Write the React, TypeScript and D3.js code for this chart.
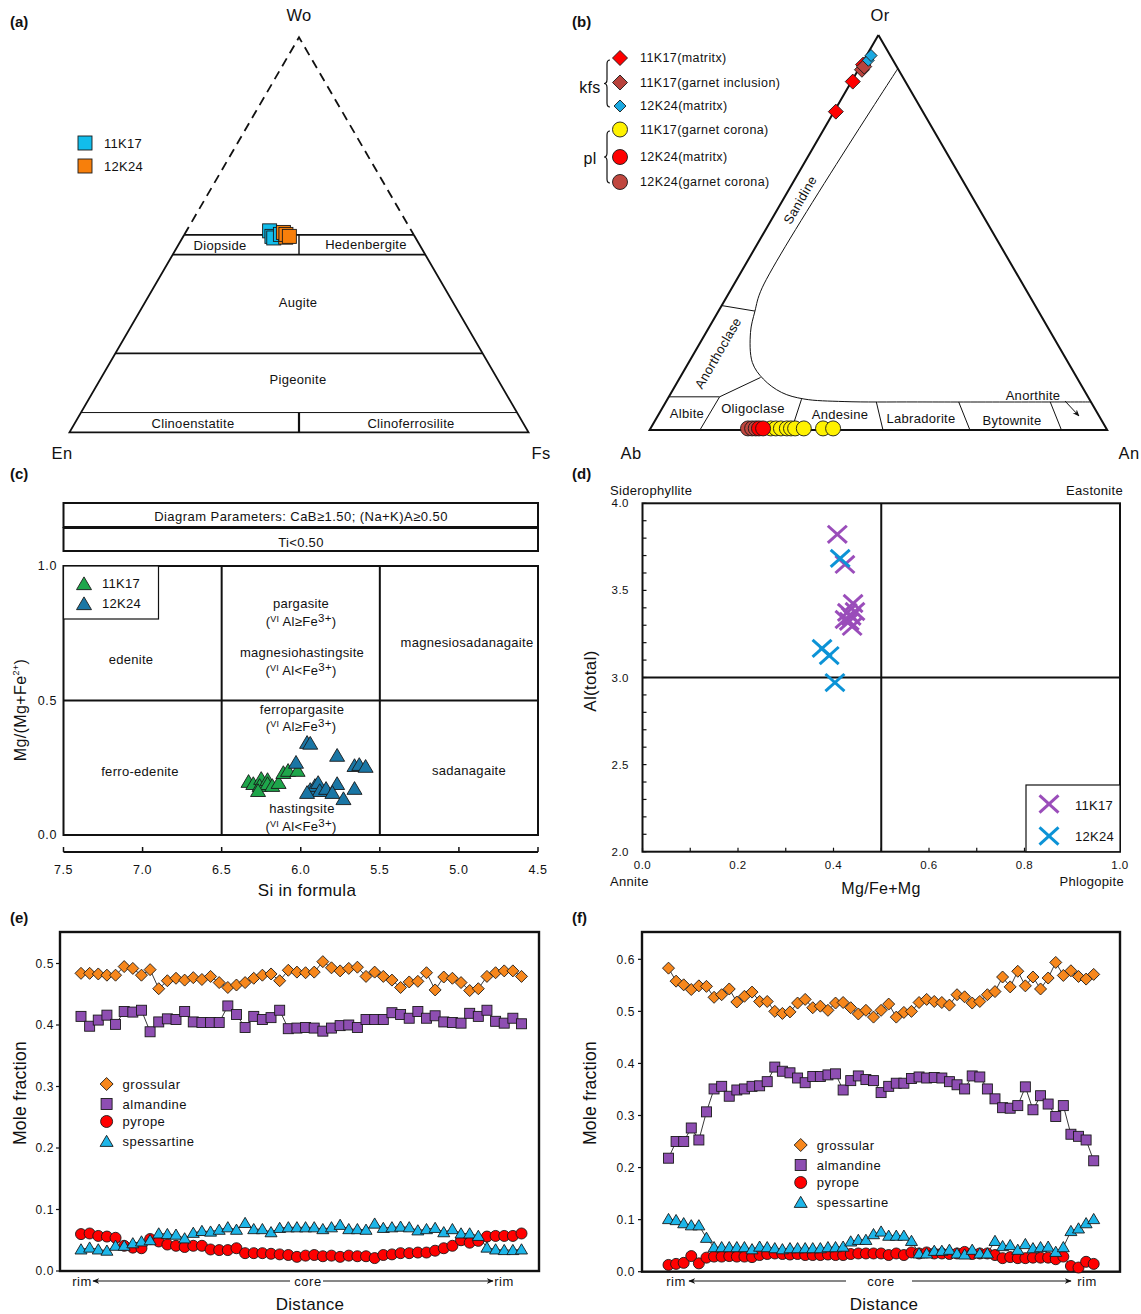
import * as d3 from 'd3';
import React from 'react';

const FONT = "'Liberation Sans', Arial, Helvetica, sans-serif";
const INK = '#111';

// (a) clinopyroxene Wo-En-Fs, each point [Wo, Fs]
const cpx11K17 = [[51.0, 18.1], [49.6, 19.3], [49.2, 19.9], [50.1, 20.9]];
const cpx12K24 = [[49.4, 22.4], [50.6, 21.3], [50.1, 22.1], [49.6, 23.1]];
const cpxBoundaries = [50, 45, 20, 5];

// (b) feldspar Or-Ab-An, each point [Or, An]
const kfs11K17Matrix = [[80.6, 0.4], [88.2, 0.3], [92.5, 0.4]];
const kfs11K17Inclusion = [[91.2, 0.8], [92.0, 0.9]];
const kfs12K24Matrix = [[93.6, 1.0], [94.8, 1.0]];
const pl11K17Corona = [[0.4, 26.3], [0.4, 27.4], [0.4, 28.5], [0.4, 29.8], [0.4, 30.7], [0.4, 31.6], [0.4, 33.5], [0.4, 37.7], [0.4, 39.9]];
const pl12K24Corona = [[0.4, 21.3], [0.4, 22.2], [0.4, 23.0]];
const pl12K24Matrix = [[0.4, 23.7], [0.4, 24.6]];
const sanidineCurve = [[91.5, 8.5], [36, 6.6], [30, 8.0], [24.7, 9.7], [17.1, 13.9], [12.9, 18.4], [9.5, 24.1], [7.85, 29.8], [7.2, 38.9], [7.1, 55], [7.1, 92.9]];
const anorthoclaseLine = [[31.5, 0], [30.1, 8.0]];
const albiteLine = [[8.4, 0], [8.4, 11.1], [13.3, 17.6]];
const plagDividers = [[[0, 11], [8.4, 11.1]], [[0, 31], [7.8, 29.3]], [[0, 51], [7.1, 46]], [[0, 70], [7.1, 64]], [[0, 90], [7.1, 84]]];

// (c) amphibole [Si, Mg/(Mg+Fe2+)]
const amp11K17 = [[6.33, 0.198], [6.30, 0.19], [6.25, 0.209], [6.26, 0.183], [6.21, 0.205], [6.21, 0.19], [6.18, 0.183], [6.14, 0.194], [6.11, 0.231], [6.08, 0.239], [6.02, 0.239], [6.27, 0.164]];
const amp12K24 = [[5.96, 0.343], [5.94, 0.34], [5.77, 0.295], [5.66, 0.257], [5.63, 0.261], [5.59, 0.254], [6.03, 0.269], [5.94, 0.168], [5.91, 0.183], [5.89, 0.194], [5.88, 0.164], [5.84, 0.172], [5.77, 0.19], [5.80, 0.157], [5.66, 0.172], [5.73, 0.134], [5.96, 0.157]];
const siTicks = [7.5, 7.0, 6.5, 6.0, 5.5, 5.0, 4.5];

// (d) biotite [Mg/(Fe+Mg), Al total]
const bt11K17 = [[0.408, 3.822], [0.424, 3.649], [0.441, 3.425], [0.429, 3.374], [0.437, 3.351], [0.433, 3.322], [0.439, 3.293], [0.445, 3.379], [0.424, 3.333]];
const bt12K24 = [[0.414, 3.684], [0.376, 3.167], [0.391, 3.126], [0.403, 2.971]];

// (e) garnet profile 11K17
const eGrossular = [0.484, 0.484, 0.483, 0.481, 0.481, 0.495, 0.492, 0.481, 0.490, 0.459, 0.472, 0.476, 0.473, 0.477, 0.474, 0.479, 0.469, 0.461, 0.465, 0.469, 0.476, 0.481, 0.483, 0.472, 0.489, 0.486, 0.485, 0.486, 0.503, 0.493, 0.488, 0.492, 0.494, 0.479, 0.486, 0.479, 0.473, 0.461, 0.470, 0.471, 0.485, 0.457, 0.478, 0.476, 0.469, 0.456, 0.459, 0.479, 0.485, 0.488, 0.488, 0.479];
const eAlmandine = [0.414, 0.398, 0.408, 0.416, 0.401, 0.422, 0.421, 0.424, 0.389, 0.405, 0.410, 0.409, 0.422, 0.405, 0.404, 0.404, 0.404, 0.431, 0.417, 0.396, 0.414, 0.409, 0.412, 0.424, 0.394, 0.395, 0.396, 0.395, 0.390, 0.395, 0.399, 0.400, 0.396, 0.409, 0.409, 0.409, 0.420, 0.417, 0.411, 0.422, 0.411, 0.415, 0.405, 0.404, 0.403, 0.419, 0.414, 0.424, 0.406, 0.403, 0.411, 0.402];
const ePyrope = [0.060, 0.061, 0.057, 0.056, 0.054, 0.041, 0.038, 0.037, 0.052, 0.048, 0.043, 0.041, 0.039, 0.041, 0.041, 0.035, 0.034, 0.034, 0.037, 0.029, 0.029, 0.029, 0.028, 0.027, 0.026, 0.023, 0.025, 0.026, 0.024, 0.025, 0.023, 0.025, 0.024, 0.024, 0.021, 0.026, 0.027, 0.029, 0.029, 0.030, 0.030, 0.033, 0.037, 0.041, 0.050, 0.046, 0.049, 0.056, 0.057, 0.057, 0.057, 0.061];
const eSpessartine = [0.035, 0.038, 0.035, 0.033, 0.041, 0.041, 0.045, 0.048, 0.050, 0.061, 0.060, 0.059, 0.053, 0.062, 0.065, 0.064, 0.067, 0.071, 0.067, 0.078, 0.068, 0.068, 0.063, 0.070, 0.071, 0.071, 0.071, 0.071, 0.068, 0.071, 0.075, 0.068, 0.068, 0.067, 0.077, 0.070, 0.071, 0.072, 0.071, 0.066, 0.068, 0.070, 0.063, 0.068, 0.061, 0.061, 0.057, 0.038, 0.035, 0.034, 0.034, 0.035];

// (f) garnet profile 12K24
const fGrossular = [0.583, 0.558, 0.551, 0.542, 0.549, 0.548, 0.527, 0.532, 0.543, 0.518, 0.529, 0.537, 0.519, 0.519, 0.500, 0.496, 0.499, 0.516, 0.523, 0.507, 0.510, 0.502, 0.516, 0.517, 0.507, 0.495, 0.502, 0.489, 0.502, 0.514, 0.489, 0.498, 0.500, 0.517, 0.523, 0.519, 0.517, 0.512, 0.532, 0.528, 0.516, 0.519, 0.532, 0.538, 0.566, 0.547, 0.577, 0.549, 0.566, 0.543, 0.564, 0.594, 0.569, 0.578, 0.567, 0.562, 0.571];
const fAlmandine = [0.218, 0.250, 0.250, 0.276, 0.253, 0.307, 0.351, 0.356, 0.337, 0.349, 0.351, 0.356, 0.357, 0.365, 0.393, 0.385, 0.382, 0.372, 0.363, 0.375, 0.375, 0.378, 0.380, 0.349, 0.367, 0.376, 0.369, 0.367, 0.344, 0.356, 0.362, 0.362, 0.371, 0.374, 0.372, 0.373, 0.372, 0.365, 0.359, 0.351, 0.376, 0.374, 0.351, 0.332, 0.315, 0.314, 0.319, 0.355, 0.311, 0.338, 0.322, 0.298, 0.319, 0.264, 0.260, 0.253, 0.213];
const fPyrope = [0.013, 0.015, 0.017, 0.030, 0.016, 0.027, 0.029, 0.029, 0.030, 0.029, 0.029, 0.028, 0.032, 0.034, 0.035, 0.034, 0.033, 0.034, 0.032, 0.032, 0.032, 0.033, 0.032, 0.032, 0.034, 0.035, 0.035, 0.035, 0.035, 0.032, 0.035, 0.032, 0.037, 0.035, 0.037, 0.035, 0.035, 0.034, 0.035, 0.038, 0.034, 0.035, 0.035, 0.032, 0.026, 0.028, 0.026, 0.026, 0.027, 0.027, 0.027, 0.024, 0.029, 0.011, 0.008, 0.019, 0.015];
const fSpessartine = [0.101, 0.099, 0.093, 0.089, 0.089, 0.065, 0.047, 0.047, 0.047, 0.047, 0.047, 0.043, 0.048, 0.047, 0.045, 0.043, 0.045, 0.045, 0.045, 0.045, 0.045, 0.047, 0.047, 0.048, 0.058, 0.061, 0.061, 0.072, 0.077, 0.069, 0.069, 0.069, 0.059, 0.035, 0.035, 0.040, 0.040, 0.042, 0.035, 0.033, 0.042, 0.035, 0.035, 0.059, 0.049, 0.051, 0.042, 0.053, 0.045, 0.047, 0.048, 0.038, 0.047, 0.078, 0.083, 0.093, 0.101];

const garnetNames = ['grossular', 'almandine', 'pyrope', 'spessartine'];

function ternary(xl, xr, yb, yt) {
  const fx = d3.scaleLinear().domain([0, 100]).range([xl, xr]);
  const fy = d3.scaleLinear().domain([0, 100]).range([yb, yt]);
  return (top, right) => [fx(right + top / 2), fy(top)];
}

const T = ({ x, y, s = 13, a = 'middle', w = undefined, rot = 0, ls = 0.3, children }: any) => (
  <text x={x} y={y} dy="0.35em" fontSize={s} textAnchor={a} fontWeight={w} letterSpacing={ls}
    transform={rot ? `rotate(${rot},${x},${y})` : undefined} fill={INK}>{children}</text>
);

function Mark({ shape, x, y, s, fill, stroke = '#1a1a1a', sw = 0.9 }: any) {
  const h = s / 2;
  if (shape === 'square') return <rect x={x - h} y={y - h} width={s} height={s} fill={fill} stroke={stroke} strokeWidth={sw} />;
  if (shape === 'circle') return <circle cx={x} cy={y} r={h} fill={fill} stroke={stroke} strokeWidth={sw} />;
  if (shape === 'diamond') return <polygon points={`${x},${y - h} ${x + h},${y} ${x},${y + h} ${x - h},${y}`} fill={fill} stroke={stroke} strokeWidth={sw} />;
  if (shape === 'triangle') return <polygon points={`${x},${y - h * 0.95} ${x + h},${y + h * 0.75} ${x - h},${y + h * 0.75}`} fill={fill} stroke={stroke} strokeWidth={sw} />;
  if (shape === 'cross') return (
    <g stroke={fill} strokeWidth={3}>
      <line x1={x - h} y1={y - h * 0.9} x2={x + h} y2={y + h * 0.9} />
      <line x1={x - h} y1={y + h * 0.9} x2={x + h} y2={y - h * 0.9} />
    </g>
  );
  return null;
}

function PanelA() {
  const t = ternary(69.5, 528.5, 432.3, 37.3);
  const seg = (pts) => d3.line()(pts.map(([a, b]) => t(a, b)));
  return (
    <g>
      <T x={10} y={22} s={15} a="start" w="bold" ls={0}>(a)</T>
      <T x={299} y={15} s={16.5}>Wo</T>
      <T x={62} y={453} s={16.5}>En</T>
      <T x={541} y={453} s={16.5}>Fs</T>
      <path d={seg([[50, 0], [100, 0], [50, 50]])} fill="none" stroke={INK} strokeWidth={1.8} strokeDasharray="9,6" />
      <path d={seg([[50, 0], [0, 0], [0, 100], [50, 50]])} fill="none" stroke={INK} strokeWidth={1.8} />
      {cpxBoundaries.map(w => <path key={w} d={seg([[w, 0], [w, 100 - w]])} stroke={INK} strokeWidth={w === 5 ? 1 : 1.8} />)}
      <path d={seg([[50, 25], [45, 27.5]])} stroke={INK} strokeWidth={1.4} />
      <path d={seg([[5, 47.5], [0, 50]])} stroke={INK} strokeWidth={2.2} />
      <T x={220} y={245}>Diopside</T>
      <T x={366} y={244}>Hedenbergite</T>
      <T x={298} y={302}>Augite</T>
      <T x={298} y={379}>Pigeonite</T>
      <T x={193} y={423}>Clinoenstatite</T>
      <T x={411} y={423}>Clinoferrosilite</T>
      {cpx11K17.map((p, i) => { const [x, y] = t(p[0], p[1]); return <Mark key={'c' + i} shape="square" x={x} y={y} s={14} fill="#12BDEB" />; })}
      {cpx12K24.map((p, i) => { const [x, y] = t(p[0], p[1]); return <Mark key={'o' + i} shape="square" x={x} y={y} s={14} fill="#F77F0B" />; })}
      <Mark shape="square" x={85} y={143} s={14} fill="#12BDEB" />
      <T x={104} y={143} a="start">11K17</T>
      <Mark shape="square" x={85} y={166} s={14} fill="#F77F0B" />
      <T x={104} y={166} a="start">12K24</T>
    </g>
  );
}

const brace = (x, y1, y2) => {
  const m = (y1 + y2) / 2;
  return `M${x + 3},${y1} Q${x},${y1} ${x},${y1 + 4} L${x},${m - 4} Q${x},${m} ${x - 3},${m} Q${x},${m} ${x},${m + 4} L${x},${y2 - 4} Q${x},${y2} ${x + 3},${y2}`;
};

function PanelB() {
  const t = ternary(649.6, 1107.2, 430, 35);
  const seg = (pts) => d3.line()(pts.map(([a, b]) => t(a, b)));
  const curve = d3.line().curve(d3.curveCatmullRom.alpha(0.5))(sanidineCurve.map(([a, b]) => t(a, b)));
  const feld = [
    { label: '11K17(matritx)', shape: 'diamond', fill: '#FF0000', s: 15, pts: kfs11K17Matrix },
    { label: '11K17(garnet inclusion)', shape: 'diamond', fill: '#B8423C', s: 15, pts: kfs11K17Inclusion },
    { label: '12K24(matritx)', shape: 'diamond', fill: '#1CA9E1', s: 12, pts: kfs12K24Matrix },
    { label: '11K17(garnet corona)', shape: 'circle', fill: '#FFF200', s: 15, pts: pl11K17Corona },
    { label: '12K24(matritx)', shape: 'circle', fill: '#FF0000', s: 15, pts: pl12K24Matrix },
    { label: '12K24(garnet corona)', shape: 'circle', fill: '#C0473F', s: 15, pts: pl12K24Corona },
  ];
  const rows = [58, 82.5, 106, 129.5, 157, 182];
  const drawOrder = [3, 5, 4, 0, 1, 2];
  return (
    <g>
      <T x={572} y={22} s={15} a="start" w="bold" ls={0}>(b)</T>
      <T x={880} y={15} s={16.5}>Or</T>
      <T x={631} y={453} s={16.5}>Ab</T>
      <T x={1129} y={453} s={16.5}>An</T>
      <path d={seg([[100, 0], [0, 0], [0, 100], [100, 0]])} fill="none" stroke={INK} strokeWidth={2} />
      <path d={curve} fill="none" stroke={INK} strokeWidth={1} />
      <path d={seg(anorthoclaseLine)} fill="none" stroke={INK} strokeWidth={1} />
      <path d={seg(albiteLine)} fill="none" stroke={INK} strokeWidth={1} />
      {plagDividers.map((d, i) => <path key={i} d={seg(d)} fill="none" stroke={INK} strokeWidth={1} />)}
      <T x={800} y={200} rot={-60}>Sanidine</T>
      <T x={718} y={353} rot={-60}>Anorthoclase</T>
      <T x={687} y={413}>Albite</T>
      <T x={753} y={408}>Oligoclase</T>
      <T x={840} y={414}>Andesine</T>
      <T x={921} y={418}>Labradorite</T>
      <T x={1012} y={420}>Bytownite</T>
      <T x={1033} y={395}>Anorthite</T>
      <line x1={1065} y1={401} x2={1079} y2={416} stroke={INK} strokeWidth={1} markerEnd="url(#ah)" />
      {drawOrder.map(k => feld[k].pts.map((p, i) => {
        const [x, y] = t(p[0], p[1]);
        return <Mark key={k + '-' + i} shape={feld[k].shape} x={x} y={y} s={feld[k].s} fill={feld[k].fill} />;
      }))}
      {feld.map((f, i) => (
        <g key={f.label + i}>
          <Mark shape={f.shape} x={620} y={rows[i]} s={f.s} fill={f.fill} />
          <T x={640} y={rows[i]} s={12.5} a="start" ls={0.4}>{f.label}</T>
        </g>
      ))}
      <path d={brace(607, 60, 107)} fill="none" stroke={INK} strokeWidth={1.2} />
      <path d={brace(607, 131, 183)} fill="none" stroke={INK} strokeWidth={1.2} />
      <T x={590} y={87} s={16}>kfs</T>
      <T x={590} y={158} s={16}>pl</T>
    </g>
  );
}

const ViLabel = ({ x, y, rel }: any) => (
  <text x={x} y={y} dy="0.35em" fontSize={13} textAnchor="middle" fill={INK} letterSpacing={0.3}>
    (<tspan fontSize={9} dy={-3.5}>VI</tspan><tspan dy={3.5}> Al{rel}Fe</tspan><tspan fontSize={11.5} dy={-3.5}>3+</tspan><tspan dy={3.5}>)</tspan>
  </text>
);

function PanelC() {
  const x = d3.scaleLinear().domain([7.5, 4.5]).range([63.5, 538]);
  const y = d3.scaleLinear().domain([0, 1]).range([835, 566]);
  const [x0, x1] = x.range();
  return (
    <g>
      <T x={10} y={474} s={15} a="start" w="bold" ls={0}>(c)</T>
      <rect x={x0} y={503} width={x1 - x0} height={24} fill="none" stroke={INK} strokeWidth={2} />
      <rect x={x0} y={528} width={x1 - x0} height={23} fill="none" stroke={INK} strokeWidth={2} />
      <T x={301} y={516} ls={0.45}>Diagram Parameters: CaB≥1.50; (Na+K)A≥0.50</T>
      <T x={301} y={542}>Ti&lt;0.50</T>
      <rect x={x0} y={y(1)} width={x1 - x0} height={y(0) - y(1)} fill="none" stroke={INK} strokeWidth={2} />
      {[6.5, 5.5].map(v => <line key={v} x1={x(v)} x2={x(v)} y1={y(1)} y2={y(0)} stroke={INK} strokeWidth={2} />)}
      <line x1={x0} x2={x1} y1={y(0.5)} y2={y(0.5)} stroke={INK} strokeWidth={2} />
      <rect x={x0} y={y(1)} width={95} height={53} fill="#fff" stroke={INK} strokeWidth={1.2} />
      {[1.0, 0.5, 0.0].map(v => <T key={v} x={57} y={y(v)} a="end" s={12.5} ls={0.6}>{v.toFixed(1)}</T>)}
      <line x1={x0} x2={x1} y1={852} y2={852} stroke={INK} strokeWidth={2} />
      {siTicks.map(v => (
        <g key={v}>
          <line x1={x(v)} x2={x(v)} y1={852} y2={847} stroke={INK} strokeWidth={1.5} />
          <T x={x(v)} y={870} s={12.5} ls={0.6}>{v.toFixed(1)}</T>
        </g>
      ))}
      <T x={307} y={890} s={17}>Si in formula</T>
      <text x={20} y={710} dy="0.35em" fontSize={16} textAnchor="middle" fill={INK} letterSpacing={0.4} transform="rotate(-90,20,710)">
        Mg/(Mg+Fe<tspan fontSize={9} dy={-7}>2+</tspan><tspan dy={7}>)</tspan>
      </text>
      <T x={131} y={659}>edenite</T>
      <T x={140} y={771}>ferro-edenite</T>
      <T x={301} y={603}>pargasite</T>
      <ViLabel x={301} y={621} rel="≥" />
      <T x={302} y={652}>magnesiohastingsite</T>
      <ViLabel x={301} y={670} rel="<" />
      <T x={467} y={642}>magnesiosadanagaite</T>
      <T x={302} y={709}>ferropargasite</T>
      <ViLabel x={301} y={726} rel="≥" />
      <T x={469} y={770}>sadanagaite</T>
      <T x={302} y={808}>hastingsite</T>
      <ViLabel x={301} y={826} rel="<" />
      {amp11K17.map((p, i) => <Mark key={'g' + i} shape="triangle" x={x(p[0])} y={y(p[1])} s={15} fill="#1EA64B" />)}
      {amp12K24.map((p, i) => <Mark key={'b' + i} shape="triangle" x={x(p[0])} y={y(p[1])} s={15} fill="#1A76A5" />)}
      <Mark shape="triangle" x={84} y={584} s={15} fill="#1EA64B" />
      <T x={102} y={583} a="start">11K17</T>
      <Mark shape="triangle" x={84} y={604} s={15} fill="#1A76A5" />
      <T x={102} y={603} a="start">12K24</T>
    </g>
  );
}

function PanelD() {
  const x = d3.scaleLinear().domain([0, 1]).range([642.5, 1120]);
  const y = d3.scaleLinear().domain([2, 4]).range([851.7, 503.3]);
  const xMinor = d3.range(0, 11).map(i => i / 10);
  const yMinor = d3.range(0, 21).map(i => 2 + i / 10);
  return (
    <g>
      <T x={572} y={474} s={15} a="start" w="bold" ls={0}>(d)</T>
      <rect x={x(0)} y={y(4)} width={x(1) - x(0)} height={y(2) - y(4)} fill="none" stroke={INK} strokeWidth={2} />
      <line x1={x(0.5)} x2={x(0.5)} y1={y(4)} y2={y(2)} stroke={INK} strokeWidth={2} />
      <line x1={x(0)} x2={x(1)} y1={y(3)} y2={y(3)} stroke={INK} strokeWidth={2} />
      {xMinor.map(v => <line key={v} x1={x(v)} x2={x(v)} y1={y(2)} y2={y(2) - 4} stroke={INK} strokeWidth={1.2} />)}
      {yMinor.map(v => <line key={v} x1={x(0)} x2={x(0) + 4} y1={y(v)} y2={y(v)} stroke={INK} strokeWidth={1.2} />)}
      {[4.0, 3.5, 3.0, 2.5, 2.0].map(v => <T key={v} x={629} y={y(v)} a="end" s={11.5} ls={0.5}>{v.toFixed(1)}</T>)}
      {[0, 0.2, 0.4, 0.6, 0.8, 1.0].map(v => <T key={v} x={x(v)} y={865} s={11.5} ls={0.5}>{v.toFixed(1)}</T>)}
      <T x={610} y={490} a="start">Siderophyllite</T>
      <T x={1123} y={490} a="end">Eastonite</T>
      <T x={610} y={881} a="start">Annite</T>
      <T x={1124} y={881} a="end">Phlogopite</T>
      <T x={881} y={888} s={16}>Mg/Fe+Mg</T>
      <T x={590} y={681} s={17} rot={-90}>Al(total)</T>
      {bt11K17.map((p, i) => <Mark key={'p' + i} shape="cross" x={x(p[0])} y={y(p[1])} s={19} fill="#9A4DBA" />)}
      {bt12K24.map((p, i) => <Mark key={'q' + i} shape="cross" x={x(p[0])} y={y(p[1])} s={19} fill="#0C93D6" />)}
      <rect x={1026} y={785} width={94} height={66.7} fill="#fff" stroke={INK} strokeWidth={1.2} />
      <Mark shape="cross" x={1049} y={804} s={19} fill="#9A4DBA" />
      <T x={1075} y={805} a="start">11K17</T>
      <Mark shape="cross" x={1049} y={836} s={19} fill="#0C93D6" />
      <T x={1075} y={836} a="start">12K24</T>
    </g>
  );
}

const garnetStyles = [
  { shape: 'diamond', fill: '#F7871C', s: 12 },
  { shape: 'square', fill: '#8E4EB2', s: 10 },
  { shape: 'circle', fill: '#FF0000', s: 11 },
  { shape: 'triangle', fill: '#1DB6E9', s: 12 },
];

function Profile({ tag, tagX, left, right, y0, yTick, vTick, ticks, labX, px, data, lg, rimL, core, rimR, arrL, arrR, mfX, distX }: any) {
  const y = d3.scaleLinear().domain([0, vTick]).range([y0, yTick]);
  const n = data[0].length;
  const x = d3.scaleLinear().domain([0, n - 1]).range(px);
  const line = d3.line().x((d, i) => x(i)).y(d => y(d));
  const lgRows = [0, 20, 37.5, 57.5];
  return (
    <g>
      <T x={tagX} y={918} s={15} a="start" w="bold" ls={0}>{tag}</T>
      <rect x={left} y={932} width={right - left} height={y0 - 932} fill="none" stroke={INK} strokeWidth={2.4} />
      {ticks.map(v => (
        <g key={v}>
          <line x1={left - 4} x2={left} y1={y(v)} y2={y(v)} stroke={INK} strokeWidth={1.2} />
          <T x={labX} y={y(v)} a="end" s={12} ls={0.6}>{v.toFixed(1)}</T>
        </g>
      ))}
      {data.map((series, k) => <path key={'l' + k} d={line(series)} fill="none" stroke="#222" strokeWidth={0.9} />)}
      {data.map((series, k) => series.map((v, i) => (
        <Mark key={k + '-' + i} shape={garnetStyles[k].shape} x={x(i)} y={y(v)} s={garnetStyles[k].s} fill={garnetStyles[k].fill} />
      )))}
      {garnetNames.map((nm, k) => (
        <g key={nm}>
          <Mark shape={garnetStyles[k].shape} x={lg[0]} y={lg[1] + lgRows[k]} s={garnetStyles[k].s + 1} fill={garnetStyles[k].fill} />
          <T x={lg[0] + 16} y={lg[1] + lgRows[k]} a="start" ls={0.5}>{nm}</T>
        </g>
      ))}
      <T x={rimL} y={1281} ls={0.5}>rim</T>
      <T x={core} y={1281} ls={0.5}>core</T>
      <T x={rimR} y={1281} ls={0.5}>rim</T>
      <line x1={arrL[1]} x2={arrL[0]} y1={1281} y2={1281} stroke={INK} strokeWidth={1} markerEnd="url(#ah)" />
      <line x1={arrR[0]} x2={arrR[1]} y1={1281} y2={1281} stroke={INK} strokeWidth={1} markerEnd="url(#ah)" />
      <T x={distX} y={1304} s={17}>Distance</T>
      <T x={mfX} y={1093} s={17.5} rot={-90}>Mole fraction</T>
    </g>
  );
}

export default function App() {
  return (
    <svg width={1141} height={1314} style={{ position: 'absolute', left: 0, top: 0, background: '#fff' }} fontFamily={FONT}>
      <defs>
        <marker id="ah" viewBox="0 0 10 10" refX="9" refY="5" markerWidth="7" markerHeight="7" orient="auto">
          <path d="M0,1 L10,5 L0,9 L3,5 z" fill={INK} />
        </marker>
      </defs>
      <rect width={1141} height={1314} fill="#fff" />
      <PanelA />
      <PanelB />
      <PanelC />
      <PanelD />
      <Profile tag="(e)" tagX={10} left={60} right={539} y0={1271} yTick={963.5} vTick={0.5}
        ticks={[0, 0.1, 0.2, 0.3, 0.4, 0.5]} labX={54} px={[81, 521.5]}
        data={[eGrossular, eAlmandine, ePyrope, eSpessartine]} lg={[106.6, 1084]}
        rimL={82} core={308} rimR={504} arrL={[93, 290]} arrR={[323, 493]} mfX={20} distX={310} />
      <Profile tag="(f)" tagX={572} left={642} right={1120} y0={1271.7} yTick={959.3} vTick={0.6}
        ticks={[0, 0.1, 0.2, 0.3, 0.4, 0.5, 0.6]} labX={635} px={[668.5, 1093.7]}
        data={[fGrossular, fAlmandine, fPyrope, fSpessartine]} lg={[800.7, 1145]}
        rimL={676} core={881} rimR={1087} arrL={[689, 846]} arrR={[912, 1071]} mfX={590} distX={884} />
    </svg>
  );
}
